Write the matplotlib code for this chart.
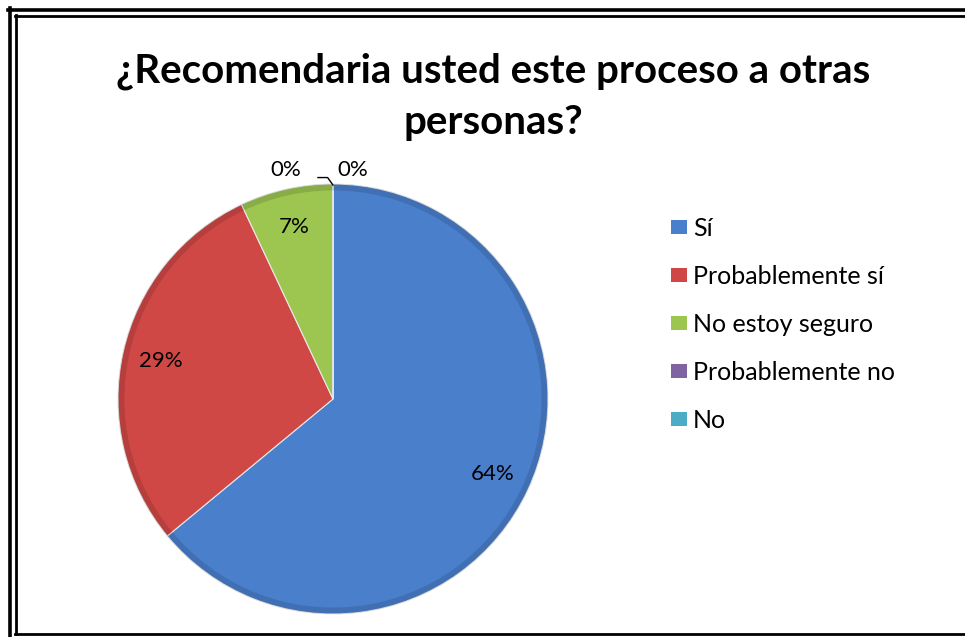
import numpy as np
import matplotlib.pyplot as plt
from matplotlib.patches import Patch
from matplotlib.lines import Line2D

plt.rcParams['font.family'] = ['Lato', 'DejaVu Sans']

categories = ['Sí', 'Probablemente sí', 'No estoy seguro', 'Probablemente no', 'No']
values = [64, 29, 7, 0, 0]
colors = ['#4a7fcc', '#d04846', '#9dc650', '#8064a2', '#4bacc6']
title = '¿Recomendaria usted este proceso a otras\npersonas?'

W, H = 965, 637
fig = plt.figure(figsize=(W / 100, H / 100), dpi=100)

# frame lines (double border, right/bottom outer edge cropped)
def hline(y, x0, x1, lw):
    fig.add_artist(Line2D([x0 / W, x1 / W], [1 - y / H, 1 - y / H], color='black', lw=lw))

def vline(x, y0, y1, lw):
    fig.add_artist(Line2D([x / W, x / W], [1 - y0 / H, 1 - y1 / H], color='black', lw=lw))

hline(9.5, 8, W, 2.6)
vline(9.5, 8, H, 2.6)
hline(15.5, 14.5, W, 2.0)
vline(15.5, 14.5, 633.5, 2.0)
hline(633.5, 14.5, W, 2.0)

# pie
cx, cy, r = 333, 399, 215
ax = fig.add_axes([(cx - r) / W, 1 - (cy + r) / H, 2 * r / W, 2 * r / H])

wedges, texts, autotexts = ax.pie(
    values, colors=colors, startangle=90, counterclock=False, radius=1,
    autopct=lambda p: f'{p:.0f}%' if p > 0.5 else '', pctdistance=0.82,
    wedgeprops=dict(edgecolor='#e8e8e8', linewidth=0.8),
    textprops=dict(fontsize=16, color='black'))

# shading ring to mimic bevel
ax.pie(values, colors=['none'] * len(values), startangle=90, counterclock=False,
       radius=1, wedgeprops=dict(width=0.03, edgecolor='none', facecolor=(0, 0, 0, 0.12)))

ax.set_xlim(-1, 1)
ax.set_ylim(-1, 1)
ax.set_aspect('equal')
ax.axis('off')

# labels for the zero slices
ax.text(-0.22, 1.065, '0%', ha='center', va='center', fontsize=16)
ax.text(0.093, 1.065, '0%', ha='center', va='center', fontsize=16)
ax.plot([-0.07, -0.025, 0.0], [1.03, 1.03, 0.995], color='black', lw=1, clip_on=False)

fig.text(493 / W, 1 - 97 / H, title, ha='center', va='center', fontsize=29,
         fontweight='bold', linespacing=1.45)

handles = [Patch(facecolor=c, edgecolor='none') for c in colors]
fig.legend(handles, categories, loc='upper left', bbox_to_anchor=(671 / W, 1 - 217 / H),
           frameon=False, fontsize=18, handlelength=0.64, handleheight=0.5,
           handletextpad=0.24, labelspacing=1.0, borderpad=0, borderaxespad=0)

fig.savefig('out.png', dpi=100)
